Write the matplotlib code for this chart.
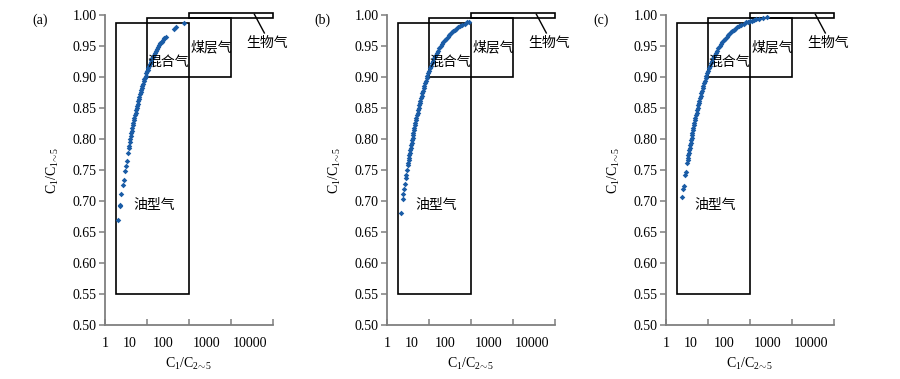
import matplotlib
matplotlib.use("Agg")
import matplotlib.pyplot as plt
from matplotlib.patches import Rectangle

plt.rcParams['font.family'] = ['Liberation Serif', 'DejaVu Serif']
plt.rcParams['mathtext.fontset'] = 'custom'
plt.rcParams['mathtext.rm'] = 'Liberation Serif'
plt.rcParams['mathtext.it'] = 'Liberation Serif:italic'

# ---------------- data ----------------
panel_labels = ['(a)', '(b)', '(c)']

a_x = [2.02, 2.25, 2.26, 2.46, 2.65, 2.76, 2.98, 3.12, 3.26, 3.48, 3.67, 3.74, 3.88, 4.0,
       4.10, 4.26, 4.35, 4.49, 4.62, 4.75, 4.88, 5.02, 5.17, 5.33, 5.49, 5.67, 5.80, 5.99,
       6.19, 6.41, 6.58, 6.81, 7.06, 7.26, 7.55, 7.77, 8.01, 8.35, 8.62, 8.90, 9.20, 9.64,
       9.99, 10.4, 10.8, 11.2, 11.7, 12.2, 12.7, 13.3, 13.9, 14.6, 15.4, 16.2, 17.2, 18.2,
       19.4, 20.7, 22.3, 24.0, 26.0, 27.6, 44.0, 49.0, 76.0]
a_y = [0.669, 0.692, 0.693, 0.711, 0.726, 0.734, 0.749, 0.757, 0.765, 0.777, 0.786, 0.789,
       0.795, 0.800, 0.804, 0.810, 0.813, 0.818, 0.822, 0.826, 0.830, 0.834, 0.838, 0.842,
       0.846, 0.850, 0.853, 0.857, 0.861, 0.865, 0.868, 0.872, 0.876, 0.879, 0.883, 0.886,
       0.889, 0.893, 0.896, 0.899, 0.902, 0.906, 0.909, 0.912, 0.915, 0.918, 0.921, 0.924,
       0.927, 0.930, 0.933, 0.936, 0.939, 0.942, 0.945, 0.948, 0.951, 0.954, 0.957, 0.960,
       0.963, 0.965, 0.978, 0.980, 0.987]

b_x = [2.13, 2.37, 2.46, 2.57, 2.68, 2.80, 2.88, 3.0,
       3.13, 3.20, 3.27, 3.35, 3.42, 3.50, 3.59, 3.67, 3.76, 3.85, 3.95, 4.05, 4.15, 4.26,
       4.38, 4.49, 4.62, 4.75, 4.88, 5.02, 5.17, 5.33, 5.49, 5.67, 5.85, 6.04, 6.25, 6.46,
       6.69, 6.94, 7.20, 7.47, 7.77, 8.09, 8.43, 8.80, 9.20, 9.64, 10.1, 10.6, 11.2, 11.8,
       12.5, 13.3, 14.2, 15.1, 16.2, 17.5, 19.0, 20.3, 21.7, 23.4, 25.3, 27.6, 30.3, 32.3,
       34.7, 37.5, 40.7, 44.5, 49.0, 54.6, 61.5, 70.4, 82.3, 89.9]
b_y = [0.681, 0.703, 0.711, 0.720, 0.728, 0.737, 0.742, 0.750,
       0.758, 0.762, 0.766, 0.770, 0.774, 0.778, 0.782, 0.786, 0.790, 0.794, 0.798, 0.802,
       0.806, 0.810, 0.814, 0.818, 0.822, 0.826, 0.830, 0.834, 0.838, 0.842, 0.846, 0.850,
       0.854, 0.858, 0.862, 0.866, 0.870, 0.874, 0.878, 0.882, 0.886, 0.890, 0.894, 0.898,
       0.902, 0.906, 0.910, 0.914, 0.918, 0.922, 0.926, 0.930, 0.934, 0.938, 0.942, 0.946,
       0.950, 0.953, 0.956, 0.959, 0.962, 0.965, 0.968, 0.970, 0.972, 0.974, 0.976, 0.978,
       0.980, 0.982, 0.984, 0.986, 0.988, 0.989]

c_x = [2.40, 2.57, 2.62, 2.88, 2.95, 3.18,
       3.27, 3.35, 3.42, 3.50, 3.59, 3.67, 3.76, 3.85, 3.95, 4.05, 4.15, 4.26, 4.38, 4.49,
       4.62, 4.75, 4.88, 5.02, 5.17, 5.33, 5.49, 5.67, 5.85, 6.04, 6.25, 6.46, 6.69, 6.94,
       7.20, 7.47, 7.77, 8.09, 8.43, 8.80, 9.20, 9.64, 10.1, 10.6, 11.2, 11.8, 12.5, 13.3,
       14.2, 15.1, 16.2, 17.5, 19.0, 20.3, 21.7, 23.4, 25.3, 27.6, 30.3, 32.3, 34.7, 37.5,
       40.7, 44.5, 49.0, 54.6, 61.5, 70.4, 82.3, 89.9, 99.0, 110.0, 124.0, 142.0, 166.0,
       199.0, 249.0]
c_y = [0.706, 0.720, 0.724, 0.742, 0.747, 0.761,
       0.766, 0.770, 0.774, 0.778, 0.782, 0.786, 0.790, 0.794, 0.798, 0.802, 0.806, 0.810,
       0.814, 0.818, 0.822, 0.826, 0.830, 0.834, 0.838, 0.842, 0.846, 0.850, 0.854, 0.858,
       0.862, 0.866, 0.870, 0.874, 0.878, 0.882, 0.886, 0.890, 0.894, 0.898, 0.902, 0.906,
       0.910, 0.914, 0.918, 0.922, 0.926, 0.930, 0.934, 0.938, 0.942, 0.946, 0.950, 0.953,
       0.956, 0.959, 0.962, 0.965, 0.968, 0.970, 0.972, 0.974, 0.976, 0.978, 0.980, 0.982,
       0.984, 0.986, 0.988, 0.989, 0.990, 0.991, 0.992, 0.993, 0.994, 0.995, 0.996]

# region boxes: (x0, x1, y0, y1)
box_oil = (1.8, 100, 0.55, 0.987)
box_coal = (10, 1000, 0.90, 0.995)
box_bio = (100, 10000, 0.995, 1.003)

region_names = ['油型气', '混合气', '煤层气', '生物气']
region_text_x = [14.5, 32, 340, 7300]
region_text_y = [0.693, 0.925, 0.947, 0.955]
bio_leader_x = [3600, 6200]
bio_leader_y = [1.001, 0.971]

y_ticks = [0.50, 0.55, 0.60, 0.65, 0.70, 0.75, 0.80, 0.85, 0.90, 0.95, 1.00]
x_ticks = [1, 10, 100, 1000, 10000]
x_tick_labels = ['1', '10', '100', '1000', '10000']
x_label_pos = [3.9, 24, 265, 2850]

series = [(a_x, a_y), (b_x, b_y), (c_x, c_y)]

# ---------------- figure ----------------
fig = plt.figure(figsize=(9.0, 3.79), dpi=100)
lefts = [0.1167, 0.430, 0.740]
grey = '#7f7f7f'
cjk = ['Noto Sans CJK SC', 'DejaVu Sans']

for i, (xs, ys) in enumerate(series):
    ax = fig.add_axes([lefts[i], 0.1425, 0.1867, 0.818])
    ax.set_xscale('log')
    ax.set_xlim(1, 10000)
    ax.set_ylim(0.50, 1.00)

    for (x0, x1, y0, y1) in (box_oil, box_coal, box_bio):
        ax.add_patch(Rectangle((x0, y0), x1 - x0, y1 - y0, fill=False,
                               edgecolor='black', linewidth=1.2, clip_on=False, zorder=2))

    ax.scatter(xs, ys, marker='D', s=8, color='#1a5ca6', linewidths=0, zorder=3)

    for name, tx, ty in zip(region_names, region_text_x, region_text_y):
        ax.text(tx, ty, name, family=cjk, fontsize=10, ha='center', va='center',
                clip_on=False, zorder=4)
    ax.plot(bio_leader_x, bio_leader_y, color='black', linewidth=1.0, clip_on=False)

    for s in ('top', 'right'):
        ax.spines[s].set_visible(False)
    for s in ('left', 'bottom'):
        ax.spines[s].set_color(grey)
        ax.spines[s].set_linewidth(1.3)

    ax.set_yticks(y_ticks)
    ax.set_yticklabels(['%.2f' % v for v in y_ticks], fontsize=10)
    ax.tick_params(axis='y', direction='out', length=4, width=1.1, color=grey, pad=2)

    ax.set_xticks(x_ticks)
    ax.set_xticklabels([x_tick_labels[0]] + [''] * 4, fontsize=10)
    ax.set_xticks(x_label_pos, x_tick_labels[1:], minor=True, fontsize=10)
    ax.tick_params(axis='x', which='major', direction='in', length=4, width=1.1,
                   color=grey, pad=9)
    ax.tick_params(axis='x', which='minor', length=0, pad=9)

    ax.set_xlabel(r'C$_\mathrm{1}$/C$_{\mathrm{2}\!\sim\!\mathrm{5}}$', fontsize=10, labelpad=4)
    ax.set_ylabel(r'C$_\mathrm{1}$/C$_{\mathrm{1}\!\sim\!\mathrm{5}}$', fontsize=10, labelpad=8)

    fig.text(lefts[i] - 0.072, 0.947, panel_labels[i], fontsize=10, ha='center', va='center')

fig.savefig('out.png', dpi=100)
